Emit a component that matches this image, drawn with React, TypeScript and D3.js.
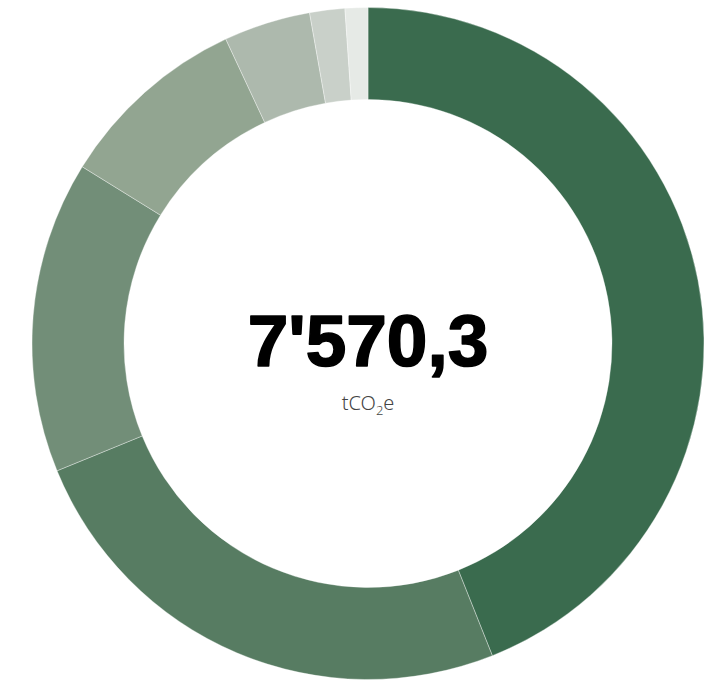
import React from 'react';
import * as d3 from 'd3';

// emissions by category, tCO2e
const categories = ['Cat 1', 'Cat 2', 'Cat 3', 'Cat 4', 'Cat 5', 'Cat 6', 'Cat 7'];
const values = [3328.4, 1881.2, 1135.6, 698.5, 315.9, 127.8, 82.9];
const colors = ['#3a6b4e', '#577c62', '#728e78', '#92a591', '#adb9ad', '#c9d0c9', '#e6eae6'];
const totalLabel = "7'570,3";

const width = 720;
const height = 681;
const cx = 368;
const cy = 343.5;
const outerR = 336;
const innerR = 244;

export default function App() {
  const pie = d3.pie<number>().sort(null).value(d => d);
  const arc = d3.arc<d3.PieArcDatum<number>>().innerRadius(innerR).outerRadius(outerR);
  const slices = pie(values);

  return (
    <svg
      width={width}
      height={height}
      style={{ position: 'absolute', left: 0, top: 0 }}
    >
      <g transform={`translate(${cx},${cy})`}>
        {slices.map((s, i) => (
          <path
            key={categories[i]}
            d={arc(s) || ''}
            fill={colors[i]}
            stroke="#ffffff"
            strokeOpacity={0.35}
            strokeWidth={1}
          />
        ))}
        <text
          y={22}
          textAnchor="middle"
          fontFamily="'Liberation Sans', Arial, sans-serif"
          fontWeight={700}
          fontSize={73}
          fill="#000"
          stroke="#000"
          strokeWidth={1.6}
          strokeLinejoin="round"
        >
          {totalLabel}
        </text>
        <text
          y={66}
          textAnchor="middle"
          fontFamily="'Noto Sans', 'Open Sans', sans-serif"
          fontWeight={300}
          fontSize={20}
          fill="#444"
        >
          tCO<tspan fontSize={13} dy={5}>2</tspan><tspan dy={-5}>e</tspan>
        </text>
      </g>
    </svg>
  );
}
